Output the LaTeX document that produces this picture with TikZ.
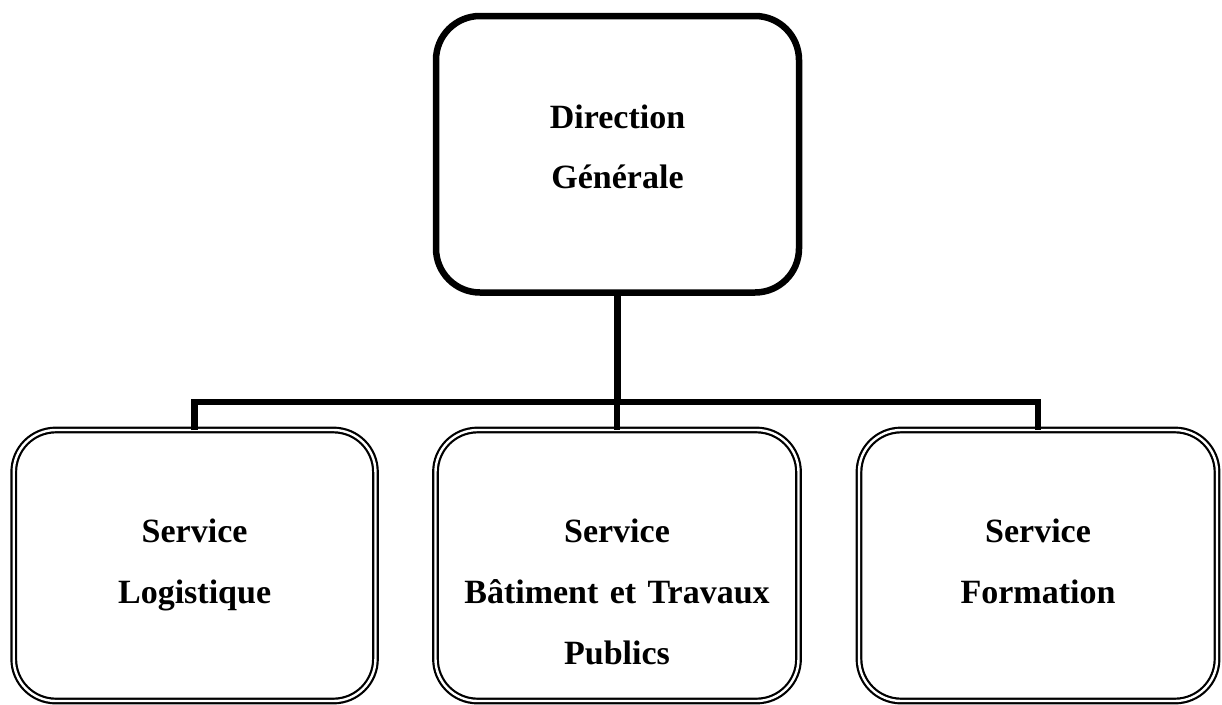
\documentclass[tikz,border=0pt]{standalone}
\usepackage{fontspec}
\setmainfont{Liberation Serif}
\begin{document}
\begin{tikzpicture}[x=1pt,y=-1pt,
  headbox/.style={draw, line width=6.5pt, rounded corners=44pt, inner sep=0pt, outer sep=0pt},
  unitbox/.style={draw, double, double distance=2.4pt, line width=2.2pt, rounded corners=42pt, inner sep=0pt, outer sep=0pt},
  label/.style={text width=350pt, align=center, anchor=base, inner sep=0pt,
    font=\fontsize{34}{61}\selectfont\bfseries},
  link/.style={line width=6.5pt, line join=miter}]
\useasboundingbox (0,0) rectangle (1222,704);

% head of the organisation
\node[headbox, minimum width=363pt, minimum height=276.5pt] (dg) at (617.5,154.25) {};
\node[label, font=\fontsize{34}{60}\selectfont\bfseries] (dgtxt) at (617.5,128) {Direction\\Générale};

% services
\node[unitbox, minimum width=361.7pt, minimum height=271pt] (log) at (194.6,565.5) {};
\node[unitbox, minimum width=363pt, minimum height=271pt] (btp) at (617,565.5) {};
\node[unitbox, minimum width=358pt, minimum height=271pt] (form) at (1038,565.5) {};

\node[label] (logtxt) at (194.6,542) {Service\\Logistique};
\node[label] (btptxt) at (617,542) {Service\\Bâtiment et Travaux\\Publics};
\node[label] (formtxt) at (1038,542) {Service\\Formation};

% hierarchy links
\coordinate (bus) at (617,402);
\draw[link] (dg.south) -- (dg.south |- bus);
\draw[link] (log.north) -- (log.north |- bus) -- (form.north |- bus) -- (form.north);
\draw[link] (btp.north |- bus) -- (btp.north);
\end{tikzpicture}
\end{document}
